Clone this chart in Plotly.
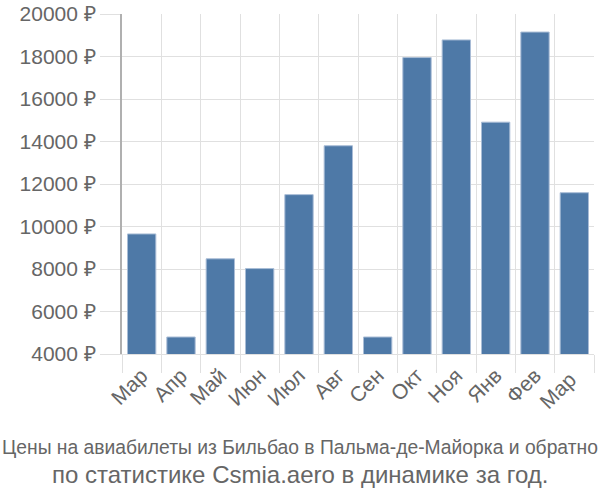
import plotly.graph_objects as go

months = ["Мар", "Апр", "Май", "Июн", "Июл", "Авг", "Сен", "Окт", "Ноя", "Янв", "Фев", "Мар "]
prices = [9650, 4800, 8480, 8020, 11500, 13800, 4800, 17950, 18780, 14910, 19150, 11590]
yticks = [4000, 6000, 8000, 10000, 12000, 14000, 16000, 18000, 20000]
ytext = [f"{v} ₽" for v in yticks]
title1 = "Цены на авиабилеты из Бильбао в Пальма-де-Майорка и обратно"
title2 = "по статистике Csmia.aero в динамике за год."

fig = go.Figure(go.Bar(
    x=months, y=prices, width=0.72,
    marker=dict(color="#4e79a7", line=dict(color="#a9bdd6", width=1)),
))
fig.update_layout(
    width=600, height=500, margin=dict(l=122, r=6, t=14, b=146, autoexpand=False),
    plot_bgcolor="white", paper_bgcolor="white",
    font=dict(family="Liberation Sans, Arial, sans-serif", color="#666666", size=21),
    showlegend=False, bargap=0.28,
)
fig.update_xaxes(
    tickangle=-45, tickson="boundaries", showgrid=True, gridcolor="#e0e0e0", gridwidth=1,
    ticks="outside", ticklen=18, tickcolor="#e0e0e0", automargin=False,
    showline=True, linecolor="#e0e0e0", tickfont=dict(size=21),
)
fig.update_yaxes(
    range=[4000, 20000], tickvals=yticks, ticktext=ytext, automargin=False,
    showgrid=True, gridcolor="#e0e0e0", gridwidth=1,
    ticks="outside", ticklen=20, tickcolor="#e0e0e0",
    showline=True, linecolor="#b0b0b0", linewidth=2, zeroline=False, tickfont=dict(size=21),
)
ph = 500 - 14 - 146
xc = (300 - 122) / (600 - 128)
fig.add_annotation(text=title1, x=xc, y=-(448 - 354) / ph, xref="paper", yref="paper",
                   showarrow=False, yanchor="middle",
                   font=dict(size=19.3, color="#666666"))
fig.add_annotation(text=title2, x=xc, y=-(474 - 354) / ph, xref="paper", yref="paper",
                   showarrow=False, yanchor="middle",
                   font=dict(size=24, color="#666666"))
fig.write_html("out.html")
